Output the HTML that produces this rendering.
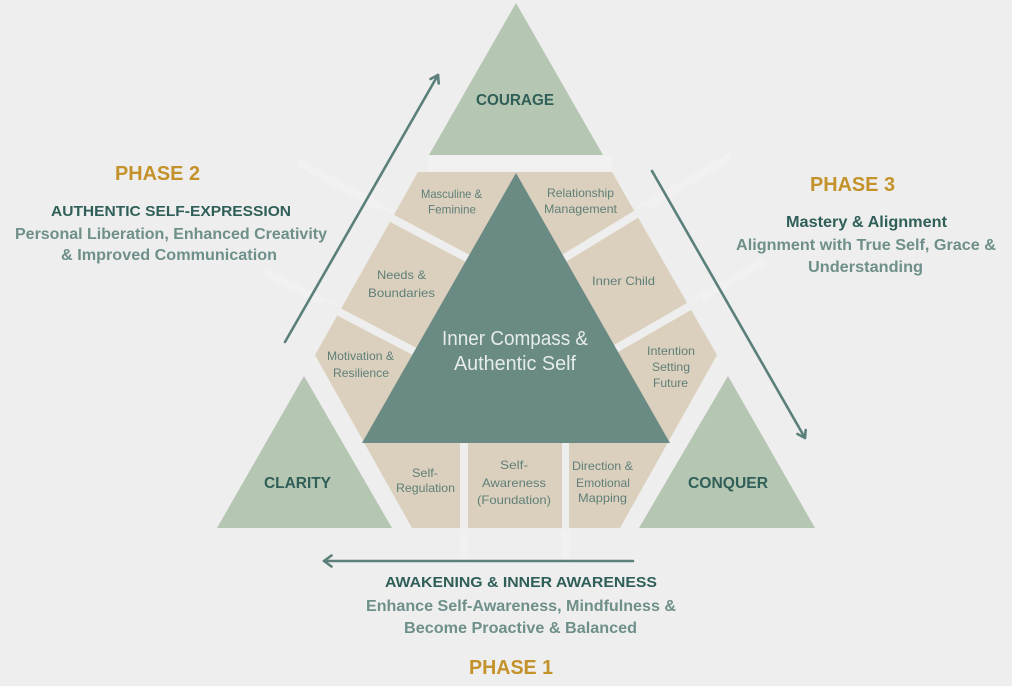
<!DOCTYPE html>
<html>
<head>
<meta charset="utf-8">
<style>
  html, body { margin: 0; padding: 0; background: #eeeeee; }
  svg { display: block; }
  text { font-family: "Liberation Sans", "DejaVu Sans", sans-serif; }
</style>
</head>
<body>
<svg width="1012" height="686" viewBox="0 0 1012 686" xmlns="http://www.w3.org/2000/svg">
  <rect x="0" y="0" width="1012" height="686" fill="#eeeeee"/>

  <!-- faint light extension bands -->
  <g stroke="#f1f1f1" stroke-width="8" fill="none" stroke-linecap="butt">
    <line x1="298" y1="162" x2="392" y2="214"/>
    <line x1="265" y1="272" x2="340" y2="310"/>
    <line x1="638" y1="211" x2="730" y2="157"/>
    <line x1="690" y1="304" x2="765" y2="261"/>
    <line x1="464" y1="528" x2="464" y2="564"/>
    <line x1="565.5" y1="528" x2="565.5" y2="564"/>
  </g>
  <rect x="428" y="156" width="184" height="15" fill="#f1f1f1"/>

  <!-- outer triangles -->
  <polygon points="516,3 429,155 603,155" fill="#b5c6b2"/>
  <polygon points="304,376 217,528 392,528" fill="#b5c6b2"/>
  <polygon points="728,376 639,528 815,528" fill="#b5c6b2"/>

  <!-- tan hexagon -->
  <polygon points="418,172 612,172 717,355 620,528 412,528 315,355" fill="#dbd0bd"/>

  <!-- separators -->
  <g stroke="#eeeeee" stroke-width="8" fill="none">
    <line x1="378" y1="211" x2="482" y2="266"/>
    <line x1="322" y1="303" x2="427" y2="358"/>
    <line x1="553" y1="265" x2="648" y2="207"/>
    <line x1="603" y1="356" x2="702" y2="299"/>
  </g>
  <rect x="460" y="440" width="8" height="90" fill="#eeeeee"/>
  <rect x="562" y="440" width="7" height="90" fill="#eeeeee"/>

  <!-- central teal triangle -->
  <polygon points="516,173 362,443 670,443" fill="#6a8a84"/>

  <!-- arrows -->
  <g stroke="#5b7f7a" stroke-width="2.6" fill="none" stroke-linecap="round" stroke-linejoin="round">
    <line x1="285" y1="342" x2="438" y2="75"/>
    <polyline points="430.5,79 438,75 438.7,83.5"/>
    <line x1="652" y1="171" x2="805" y2="438"/>
    <polyline points="805.7,430 805,438 797.5,434"/>
    <line x1="633" y1="561" x2="324" y2="561"/>
    <polyline points="331.5,555.5 324,561 331.5,566.5"/>
  </g>

  <!-- Phase 2 text -->
  <text x="157.5" y="180" text-anchor="middle" font-size="20" font-weight="bold" fill="#c4922a" textLength="85" lengthAdjust="spacingAndGlyphs">PHASE 2</text>
  <text x="171" y="216" text-anchor="middle" font-size="15" font-weight="bold" fill="#2f5f58" textLength="240" lengthAdjust="spacingAndGlyphs">AUTHENTIC SELF-EXPRESSION</text>
  <text x="171" y="239" text-anchor="middle" font-size="16" font-weight="bold" fill="#6e8f8a" textLength="312" lengthAdjust="spacingAndGlyphs">Personal Liberation, Enhanced Creativity</text>
  <text x="169" y="260" text-anchor="middle" font-size="16" font-weight="bold" fill="#6e8f8a" textLength="216" lengthAdjust="spacingAndGlyphs">&amp; Improved Communication</text>

  <!-- Phase 3 text -->
  <text x="852.5" y="191" text-anchor="middle" font-size="20" font-weight="bold" fill="#c4922a" textLength="85" lengthAdjust="spacingAndGlyphs">PHASE 3</text>
  <text x="866.5" y="227" text-anchor="middle" font-size="16" font-weight="bold" fill="#2f5f58" textLength="161" lengthAdjust="spacingAndGlyphs">Mastery &amp; Alignment</text>
  <text x="866" y="250" text-anchor="middle" font-size="16" font-weight="bold" fill="#6e8f8a" textLength="260" lengthAdjust="spacingAndGlyphs">Alignment with True Self, Grace &amp;</text>
  <text x="865.5" y="272" text-anchor="middle" font-size="16" font-weight="bold" fill="#6e8f8a" textLength="115" lengthAdjust="spacingAndGlyphs">Understanding</text>

  <!-- Phase 1 text -->
  <text x="521" y="587" text-anchor="middle" font-size="15" font-weight="bold" fill="#2f5f58" textLength="272" lengthAdjust="spacingAndGlyphs">AWAKENING &amp; INNER AWARENESS</text>
  <text x="521" y="611" text-anchor="middle" font-size="16" font-weight="bold" fill="#6e8f8a" textLength="310" lengthAdjust="spacingAndGlyphs">Enhance Self-Awareness, Mindfulness &amp;</text>
  <text x="520.5" y="633" text-anchor="middle" font-size="16" font-weight="bold" fill="#6e8f8a" textLength="233" lengthAdjust="spacingAndGlyphs">Become Proactive &amp; Balanced</text>
  <text x="511" y="674" text-anchor="middle" font-size="20" font-weight="bold" fill="#c4922a" textLength="84" lengthAdjust="spacingAndGlyphs">PHASE 1</text>

  <!-- Triangle labels -->
  <text x="515" y="105" text-anchor="middle" font-size="16" font-weight="bold" fill="#2f5f58" textLength="78" lengthAdjust="spacingAndGlyphs">COURAGE</text>
  <text x="297.5" y="488" text-anchor="middle" font-size="16" font-weight="bold" fill="#2f5f58" textLength="67" lengthAdjust="spacingAndGlyphs">CLARITY</text>
  <text x="728" y="488" text-anchor="middle" font-size="16" font-weight="bold" fill="#2f5f58" textLength="80" lengthAdjust="spacingAndGlyphs">CONQUER</text>

  <!-- Center -->
  <text x="515" y="345" text-anchor="middle" font-size="20" fill="#e6ecea" textLength="146" lengthAdjust="spacingAndGlyphs">Inner Compass &amp;</text>
  <text x="515" y="370" text-anchor="middle" font-size="20" fill="#e6ecea" textLength="122" lengthAdjust="spacingAndGlyphs">Authentic Self</text>

  <!-- Tan block labels -->
  <g font-size="12" fill="#5f7f79" text-anchor="middle">
    <text x="451.5" y="198" textLength="61" lengthAdjust="spacingAndGlyphs">Masculine &amp;</text>
    <text x="452" y="213.5" textLength="48" lengthAdjust="spacingAndGlyphs">Feminine</text>

    <text x="580.5" y="197" textLength="67" lengthAdjust="spacingAndGlyphs">Relationship</text>
    <text x="580.5" y="213" textLength="73" lengthAdjust="spacingAndGlyphs">Management</text>

    <text x="401.5" y="279" textLength="49" lengthAdjust="spacingAndGlyphs">Needs &amp;</text>
    <text x="401.5" y="297" textLength="67" lengthAdjust="spacingAndGlyphs">Boundaries</text>

    <text x="623.5" y="285" textLength="63" lengthAdjust="spacingAndGlyphs">Inner Child</text>

    <text x="360.5" y="360" textLength="67" lengthAdjust="spacingAndGlyphs">Motivation &amp;</text>
    <text x="361" y="377" textLength="56" lengthAdjust="spacingAndGlyphs">Resilience</text>

    <text x="671" y="355" textLength="48" lengthAdjust="spacingAndGlyphs">Intention</text>
    <text x="671" y="371" textLength="38" lengthAdjust="spacingAndGlyphs">Setting</text>
    <text x="670.5" y="387" textLength="35" lengthAdjust="spacingAndGlyphs">Future</text>

    <text x="425" y="477" textLength="26" lengthAdjust="spacingAndGlyphs">Self-</text>
    <text x="425.5" y="492" textLength="59" lengthAdjust="spacingAndGlyphs">Regulation</text>

    <text x="514" y="469" textLength="28" lengthAdjust="spacingAndGlyphs">Self-</text>
    <text x="514" y="487" textLength="64" lengthAdjust="spacingAndGlyphs">Awareness</text>
    <text x="514" y="504" textLength="74" lengthAdjust="spacingAndGlyphs">(Foundation)</text>

    <text x="602.5" y="470" textLength="61" lengthAdjust="spacingAndGlyphs">Direction &amp;</text>
    <text x="603" y="487" textLength="54" lengthAdjust="spacingAndGlyphs">Emotional</text>
    <text x="602.5" y="502" textLength="49" lengthAdjust="spacingAndGlyphs">Mapping</text>
  </g>
</svg>
</body>
</html>
